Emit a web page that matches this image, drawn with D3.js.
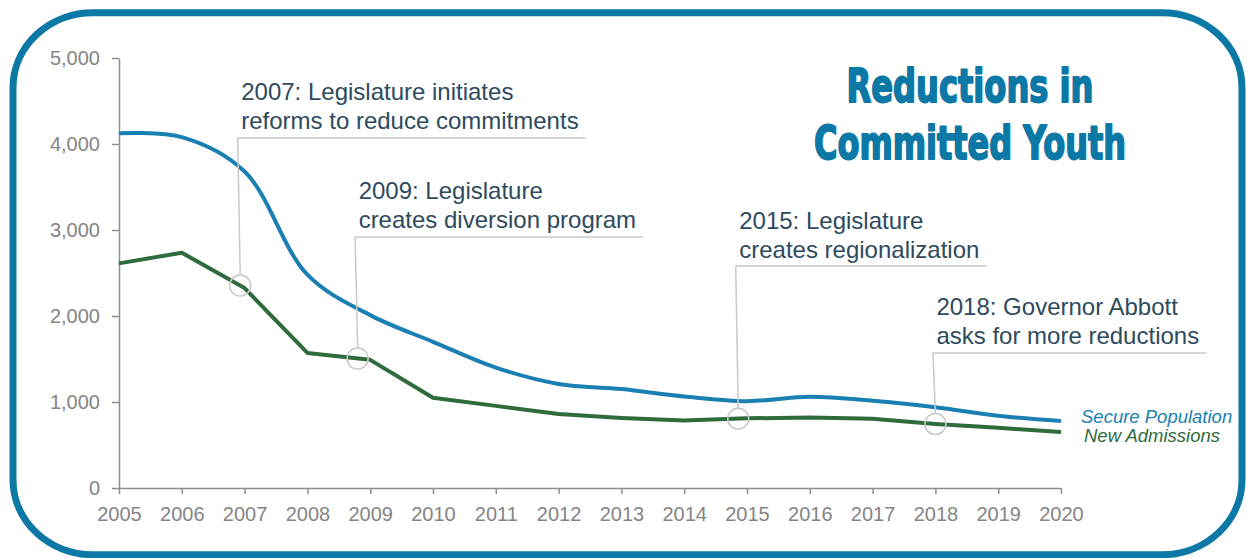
<!DOCTYPE html>
<html>
<head>
<meta charset="utf-8">
<script src="https://cdn.jsdelivr.net/npm/d3@7/dist/d3.min.js"></script>
<style>
  html, body { margin: 0; padding: 0; background: #ffffff; }
  svg { display: block; }
</style>
</head>
<body>
<svg id="chart" width="1246" height="558"></svg>
<script>
// Texas committed youth, 2005–2020
const years = d3.range(2005, 2021);
const securePopulation = [4125, 4080, 3680, 2480, 2010, 1700, 1400, 1210, 1150, 1065, 1010, 1060, 1015, 940, 840, 780];
const newAdmissions   = [2612, 2736, 2325, 1570, 1490, 1050, 955, 860, 815, 785, 810, 820, 805, 745, 700, 650];

const yTicks = [0, 1000, 2000, 3000, 4000, 5000];
const seriesNames = ["Secure Population", "New Admissions"];

// Policy milestones: anchor year on the admissions line, level of the label rule
const noteYears  = [2006.93, 2008.8, 2014.86, 2018];
const noteLevels = [4070, 2920, 2580, 1570];
const noteLines  = [
  ["2007: Legislature initiates", "reforms to reduce commitments"],
  ["2009: Legislature", "creates diversion program"],
  ["2015: Legislature", "creates regionalization"],
  ["2018: Governor Abbott", "asks for more reductions"]
];

const titleLines = ["Reductions in", "Committed Youth"];

const BLUE = "#1a80b3";
const GREEN = "#2f6b3c";
const FRAME = "#0b78a6";
const NOTE = "#2e4a5d";
const AXIS = "#8e8e8e";

const svg = d3.select("#chart");

// rounded frame
svg.append("rect")
  .attr("x", 13).attr("y", 12.7)
  .attr("width", 1229).attr("height", 542)
  .attr("rx", 80).attr("ry", 75)
  .attr("fill", "none")
  .attr("stroke", FRAME)
  .attr("stroke-width", 7);

const x = d3.scaleLinear().domain([2005, 2020]).range([119, 1061]);
const y = d3.scaleLinear().domain([0, 5000]).range([488, 58]);

// axes
const yAxis = svg.append("g")
  .attr("transform", `translate(${x(2005)},0)`)
  .call(d3.axisLeft(y).tickValues(yTicks).tickFormat(d3.format(",")).tickSize(7).tickPadding(12).tickSizeOuter(0));
const xAxis = svg.append("g")
  .attr("transform", `translate(0,${y(0)})`)
  .call(d3.axisBottom(x).tickValues(years).tickFormat(d3.format("d")).tickSize(6).tickPadding(13).tickSizeOuter(0));

[yAxis, xAxis].forEach(g => {
  g.select(".domain").attr("stroke", AXIS).attr("stroke-width", 1.5);
  g.selectAll(".tick line").attr("stroke", AXIS).attr("stroke-width", 1.5);
  g.selectAll(".tick text")
    .attr("fill", "#858585")
    .style("font-family", "'Liberation Sans', Arial, sans-serif")
    .style("font-size", "20px");
});

// series lines
const blueLine = d3.line()
  .x((d, i) => x(years[i]))
  .y(d => y(d))
  .curve(d3.curveCatmullRom.alpha(0.5));
const greenLine = d3.line()
  .x((d, i) => x(years[i]))
  .y(d => y(d));

svg.append("path")
  .datum(securePopulation)
  .attr("d", blueLine)
  .attr("fill", "none")
  .attr("stroke", BLUE)
  .attr("stroke-width", 4)
  .attr("stroke-linejoin", "round");

svg.append("path")
  .datum(newAdmissions)
  .attr("d", greenLine)
  .attr("fill", "none")
  .attr("stroke", GREEN)
  .attr("stroke-width", 4)
  .attr("stroke-linejoin", "round");

// series labels at the line ends
const lastIdx = years.length - 1;
const seriesEnds = [securePopulation[lastIdx], newAdmissions[lastIdx]];
const labelShift = [2, 10];
const seriesColors = [BLUE, GREEN];
seriesNames.forEach((name, k) => {
  svg.append("text")
    .attr("x", x(2020) + (k === 0 ? 20 : 23))
    .attr("y", y(seriesEnds[k]) + labelShift[k])
    .attr("fill", seriesColors[k])
    .style("font-family", "'Liberation Sans', Arial, sans-serif")
    .style("font-style", "italic")
    .style("font-size", "18.5px")
    .text(name);
});

// milestone callouts
const admissionsAt = d3.scaleLinear().domain(years).range(newAdmissions);
const R = 10.5;
noteYears.forEach((yr, k) => {
  const cx = x(yr);
  const cy = y(admissionsAt(yr));
  const ruleY = y(noteLevels[k]);
  const lx = cx - 2.5;
  const g = svg.append("g");

  const texts = noteLines[k].map((line, j) =>
    g.append("text")
      .attr("x", lx + 3.5)
      .attr("y", ruleY - 8.5 - (noteLines[k].length - 1 - j) * 29)
      .attr("fill", NOTE)
      .style("font-family", "'Liberation Sans', Arial, sans-serif")
      .style("font-size", "24px")
      .text(line)
  );
  const w = d3.max(texts, t => t.node().getComputedTextLength());

  g.append("line")
    .attr("x1", lx).attr("y1", ruleY)
    .attr("x2", lx + 3.5 + w + 7).attr("y2", ruleY)
    .attr("stroke", "#c9c9c9").attr("stroke-width", 1.5);
  g.append("line")
    .attr("x1", lx).attr("y1", ruleY)
    .attr("x2", cx).attr("y2", cy - R)
    .attr("stroke", "#c9c9c9").attr("stroke-width", 1.5);
  g.append("circle")
    .attr("cx", cx).attr("cy", cy).attr("r", R)
    .attr("fill", "none")
    .attr("stroke", "#c9c9c9").attr("stroke-width", 1.5);
});

// title
const titleBaselines = [102, 158.5];
const titleWidths = [247, 312];
titleLines.forEach((t, i) => {
  svg.append("text")
    .attr("x", 970)
    .attr("y", titleBaselines[i])
    .attr("text-anchor", "middle")
    .attr("fill", FRAME)
    .attr("stroke", FRAME)
    .attr("stroke-width", 1.8)
    .attr("stroke-linejoin", "round")
    .attr("textLength", titleWidths[i])
    .attr("lengthAdjust", "spacingAndGlyphs")
    .style("font-family", "'Liberation Sans Narrow', 'DejaVu Sans Condensed', sans-serif")
    .style("font-weight", "bold")
    .style("font-size", "46px")
    .text(t);
});
</script>
</body>
</html>
